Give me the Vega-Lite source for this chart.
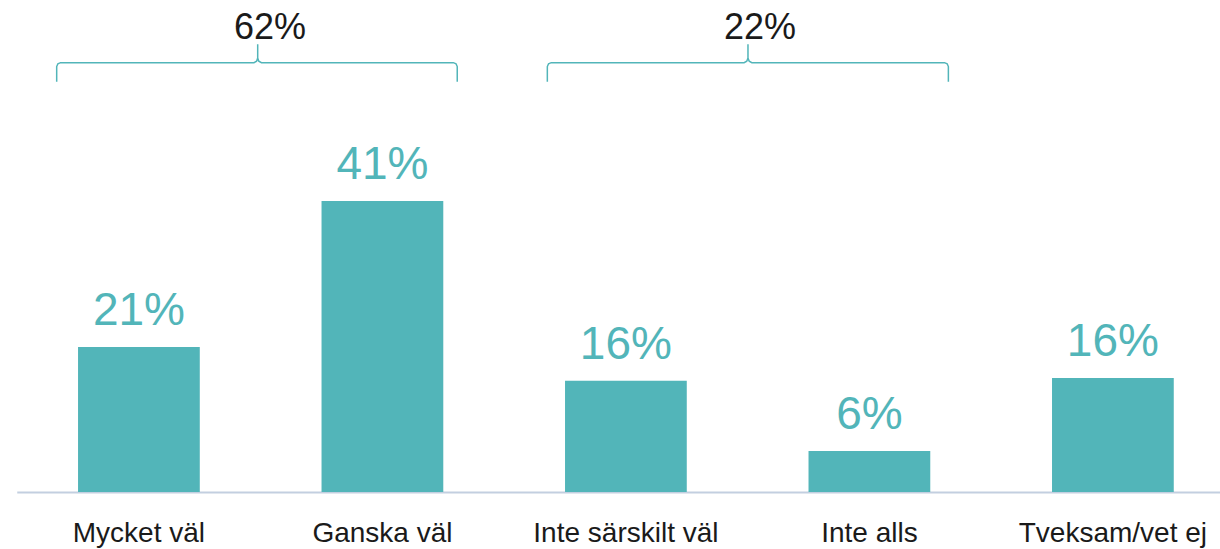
{
  "$schema": "https://vega.github.io/schema/vega-lite/v6.json",
  "width": 1203.25,
  "height": 492,
  "autosize": {"type": "none"},
  "padding": {"left": 16.75, "top": 0, "right": 0, "bottom": 57},
  "background": "white",
  "config": {"view": {"stroke": null}, "font": "Liberation Sans"},
  "datasets": {
    "bars": [
      {"kat": "Mycket väl", "v": 20.5, "lbl": "21%"},
      {"kat": "Ganska väl", "v": 41.1, "lbl": "41%"},
      {"kat": "Inte särskilt väl", "v": 15.7, "lbl": "16%"},
      {"kat": "Inte alls", "v": 5.8, "lbl": "6%"},
      {"kat": "Tveksam/vet ej", "v": 16.1, "lbl": "16%"}
    ],
    "brace": [
      {"g": "A", "o": 1, "xi": -0.336, "v": 57.96},
      {"g": "A", "o": 2, "xi": -0.336, "v": 60.1},
      {"g": "A", "o": 3, "xi": -0.331, "v": 60.5},
      {"g": "A", "o": 4, "xi": -0.32, "v": 60.65},
      {"g": "A", "o": 5, "xi": 0.474, "v": 60.65},
      {"g": "A", "o": 6, "xi": 0.485, "v": 60.85},
      {"g": "A", "o": 7, "xi": 0.4895, "v": 61.3},
      {"g": "A", "o": 8, "xi": 0.4895, "v": 63.24},
      {"g": "A", "o": 9, "xi": 0.4895, "v": 61.3},
      {"g": "A", "o": 10, "xi": 0.494, "v": 60.85},
      {"g": "A", "o": 11, "xi": 0.505, "v": 60.65},
      {"g": "A", "o": 12, "xi": 1.293, "v": 60.65},
      {"g": "A", "o": 13, "xi": 1.304, "v": 60.5},
      {"g": "A", "o": 14, "xi": 1.309, "v": 60.1},
      {"g": "A", "o": 15, "xi": 1.309, "v": 57.96},
      {"g": "B", "o": 1, "xi": 1.679, "v": 57.96},
      {"g": "B", "o": 2, "xi": 1.679, "v": 60.1},
      {"g": "B", "o": 3, "xi": 1.684, "v": 60.5},
      {"g": "B", "o": 4, "xi": 1.695, "v": 60.65},
      {"g": "B", "o": 5, "xi": 2.487, "v": 60.65},
      {"g": "B", "o": 6, "xi": 2.498, "v": 60.85},
      {"g": "B", "o": 7, "xi": 2.503, "v": 61.3},
      {"g": "B", "o": 8, "xi": 2.503, "v": 63.24},
      {"g": "B", "o": 9, "xi": 2.503, "v": 61.3},
      {"g": "B", "o": 10, "xi": 2.508, "v": 60.85},
      {"g": "B", "o": 11, "xi": 2.519, "v": 60.65},
      {"g": "B", "o": 12, "xi": 3.31, "v": 60.65},
      {"g": "B", "o": 13, "xi": 3.321, "v": 60.5},
      {"g": "B", "o": 14, "xi": 3.326, "v": 60.1},
      {"g": "B", "o": 15, "xi": 3.326, "v": 57.96}
    ],
    "groups": [
      {"xi": 0.54, "v": 64.0, "lbl": "62%"},
      {"xi": 2.552, "v": 64.0, "lbl": "22%"}
    ]
  },
  "layer": [
    {
      "data": {"name": "bars"},
      "layer": [
        {
          "mark": {"type": "bar", "color": "#52b5b9"},
          "encoding": {
            "x": {
              "field": "kat", "type": "nominal", "sort": null,
              "scale": {"paddingInner": 0.5, "paddingOuter": 0.2208, "align": 0.57},
              "axis": {
                "title": null, "ticks": false, "tickSize": 0, "grid": false,
                "labelAngle": 0, "labelFontSize": 28, "labelColor": "#1a1a1a",
                "labelBaseline": "alphabetic", "labelPadding": 49,
                "labelFont": "Liberation Sans", "labelLimit": 0, "labelOverlap": false,
                "domainColor": "#c3cfe0", "domainWidth": 2
              }
            },
            "y": {
              "field": "v", "type": "quantitative",
              "scale": {"domain": [0, 69.5], "nice": false, "zero": true},
              "axis": null
            }
          }
        },
        {
          "mark": {"type": "text", "color": "#52b5b9", "fontSize": 46, "baseline": "alphabetic", "dy": -22, "font": "Liberation Sans"},
          "encoding": {
            "x": {"field": "kat", "type": "nominal", "sort": null},
            "y": {"field": "v", "type": "quantitative"},
            "text": {"field": "lbl"}
          }
        }
      ]
    },
    {
      "data": {"name": "brace"},
      "mark": {"type": "line", "color": "#52b5b9", "strokeWidth": 1.5, "interpolate": "linear"},
      "encoding": {
        "x": {"field": "xi", "type": "quantitative", "scale": {"domain": [-0.5, 4.4415], "nice": false, "zero": false}, "axis": null},
        "y": {"field": "v", "type": "quantitative"},
        "detail": {"field": "g"},
        "order": {"field": "o", "type": "quantitative"}
      }
    },
    {
      "data": {"name": "groups"},
      "mark": {"type": "text", "color": "#1a1a1a", "fontSize": 36, "baseline": "alphabetic", "font": "Liberation Sans"},
      "encoding": {
        "x": {"field": "xi", "type": "quantitative", "scale": {"domain": [-0.5, 4.4415], "nice": false, "zero": false}, "axis": null},
        "y": {"field": "v", "type": "quantitative"},
        "text": {"field": "lbl"}
      }
    }
  ],
  "resolve": {"scale": {"x": "independent"}}
}
